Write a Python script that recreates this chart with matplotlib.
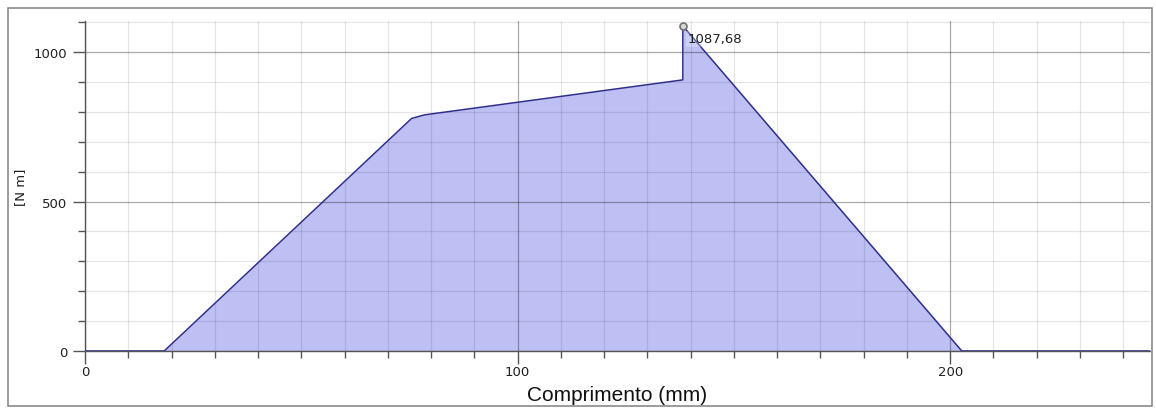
import numpy as np
import matplotlib
matplotlib.use("Agg")
import matplotlib.pyplot as plt
from matplotlib.patches import Rectangle
from matplotlib.ticker import MultipleLocator

# 数据：位置 (mm) 与 弯矩 (N m)
comprimento = np.array([0, 18.3, 75.5, 78.5, 138.2, 138.2, 202.7, 246.2])
momento = np.array([0, 0, 778, 790, 907, 1087.68, 0, 0])
pico_x = 138.2
pico_y = 1087.68
pico_txt = "1087,68"

fig = plt.figure(figsize=(11.56, 4.10), dpi=100)
ax = fig.add_axes([85 / 1156, 58 / 410, 1065 / 1156, 330 / 410])

ax.fill_between(comprimento, momento, 0, color="#bec0f3", lw=0, zorder=0.2)
ax.plot(comprimento, momento, color="#2e2e8c", lw=1.1, zorder=3)
ax.plot([pico_x], [pico_y], "o", ms=5, mfc="#d8d8d8", mec="#707070", mew=1.2, zorder=5)
ax.annotate(pico_txt, (pico_x, pico_y), xytext=(5, -13), textcoords="offset pixels",
            ha="left", va="center", fontsize=9.5, color="#202020", zorder=6,
            bbox=dict(boxstyle="square,pad=0.1", fc="white", ec="none", alpha=0.25))

ax.set_xlim(0, 246.2)
ax.set_ylim(0, 1104)
ax.xaxis.set_major_locator(MultipleLocator(100))
ax.xaxis.set_minor_locator(MultipleLocator(10))
ax.yaxis.set_major_locator(MultipleLocator(500))
ax.yaxis.set_minor_locator(MultipleLocator(100))

# grade semi-transparente (aparece por cima do preenchimento)
ax.set_axisbelow(True)
ax.grid(which="minor", color="black", alpha=0.10, lw=0.9)
ax.grid(which="major", color="black", alpha=0.33, lw=0.9)

for s in ["top", "right"]:
    ax.spines[s].set_visible(False)
for s in ["left", "bottom"]:
    ax.spines[s].set_color("#555555")
    ax.spines[s].set_linewidth(1.0)

ax.tick_params(which="major", length=9, width=1, color="#555555", labelsize=9.5, labelcolor="#202020")
ax.tick_params(which="minor", length=5, width=1, color="#555555")
ax.tick_params(axis="x", pad=1)

ax.set_xlabel("Comprimento (mm)", fontsize=15, family="Liberation Sans", labelpad=5, color="#111111")
ax.set_ylabel("[N m]", fontsize=9.5, labelpad=5, color="#202020")

# moldura externa
fig.patches.append(Rectangle((8 / 1156, 3 / 410), 1144 / 1156, 398 / 410,
                             transform=fig.transFigure, fill=False, ec="#8a8a8a", lw=1.2))

fig.savefig("out.png", dpi=100)
